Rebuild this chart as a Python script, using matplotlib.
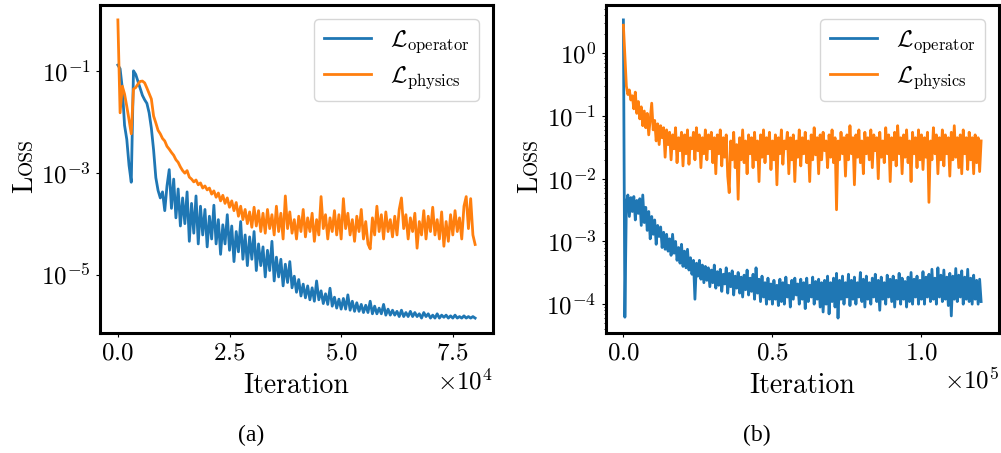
import numpy as np
import matplotlib
matplotlib.use("Agg")
import matplotlib.pyplot as plt
from matplotlib.ticker import LogLocator, NullLocator, NullFormatter, ScalarFormatter

plt.rcParams['font.family'] = ['cmr10']
plt.rcParams['mathtext.fontset'] = 'cm'
plt.rcParams['axes.unicode_minus'] = False
plt.rcParams['axes.formatter.use_mathtext'] = True

# ---------------- data ----------------
log_every = 500  # iterations between logged loss values

# panel (a): 0 .. 80000 iterations
op_loss_a = [
    0.13, 0.11, 0.045, 0.0085, 0.0045, 0.0014, 0.00065, 0.1, 0.085, 0.062,
    0.045, 0.033, 0.027, 0.023, 0.015, 0.0075, 0.0028, 0.0008, 0.00045, 0.00032,
    0.00042, 0.00018, 0.00055, 0.00115, 0.0002, 0.00075, 0.00013, 0.00048, 0.00009, 0.00032,
    0.0001, 0.00042, 4.5e-5, 0.00025, 6.5e-5, 0.00035, 4e-5, 0.00022, 6e-5, 0.00019,
    3.5e-5, 0.00014, 5e-5, 0.00023, 4e-5, 0.00012, 2.5e-5, 9.5e-5, 4e-5, 0.00015,
    3e-5, 9e-5, 1.8e-5, 7e-5, 2.8e-5, 0.00011, 2e-5, 6e-5, 1.5e-5, 5.5e-5,
    2e-5, 7e-5, 1.2e-5, 4e-5, 1.5e-5, 3.5e-5, 9e-6, 3e-5, 1.2e-5, 4.5e-5,
    7.5e-6, 2.2e-5, 9e-6, 2e-5, 6e-6, 1.6e-5, 7e-6, 1.8e-5, 5.5e-6, 9.3e-6,
    4.5e-6, 8e-6, 3.8e-6, 6.5e-6, 3.5e-6, 6e-6, 3.2e-6, 5.5e-6, 3e-6, 7.5e-6,
    3.2e-6, 4.8e-6, 2.7e-6, 4.2e-6, 2.6e-6, 5.4e-6, 2.4e-6, 3.6e-6, 2.2e-6, 3.3e-6,
    2.1e-6, 3.4e-6, 2.1e-6, 4e-6, 2e-6, 3e-6, 1.9e-6, 2.8e-6, 1.9e-6, 2.6e-6,
    1.8e-6, 2.5e-6, 1.8e-6, 3e-6, 1.7e-6, 2.4e-6, 1.7e-6, 2.2e-6, 1.7e-6, 2.6e-6,
    1.6e-6, 2.1e-6, 1.6e-6, 2e-6, 1.6e-6, 1.9e-6, 1.5e-6, 2e-6, 1.5e-6, 1.8e-6,
    1.5e-6, 1.9e-6, 1.5e-6, 1.8e-6, 1.5e-6, 1.7e-6, 1.4e-6, 1.8e-6, 1.5e-6, 1.7e-6,
    1.4e-6, 1.6e-6, 1.4e-6, 1.7e-6, 1.4e-6, 1.6e-6, 1.45e-6, 1.6e-6, 1.4e-6, 1.55e-6,
    1.4e-6, 1.6e-6, 1.4e-6, 1.5e-6, 1.4e-6, 1.55e-6, 1.4e-6, 1.5e-6, 1.4e-6, 1.5e-6,
    1.4e-6,
]
phys_loss_a = [
    1.0, 0.015, 0.05, 0.035, 0.02, 0.011, 0.0058, 0.044, 0.047, 0.055,
    0.062, 0.063, 0.058, 0.046, 0.036, 0.028, 0.013, 0.0095, 0.0068, 0.0058,
    0.0047, 0.0042, 0.0033, 0.0029, 0.0025, 0.0022, 0.0018, 0.0016, 0.0013, 0.0011,
    0.00098, 0.0011, 0.00082, 0.00075, 0.00066, 0.00072, 0.00058, 0.00063, 0.0005, 0.00055,
    0.00046, 0.0005, 0.00038, 0.00044, 0.00033, 0.0004, 0.00028, 0.00036, 0.00025, 0.00032,
    0.00021, 0.00028, 0.00018, 0.00026, 0.00014, 0.00022, 0.00012, 0.00019, 0.0001, 0.00017,
    8.5e-5, 0.00021, 9e-5, 0.00018, 7e-5, 0.00016, 6.5e-5, 0.00019, 8e-5, 0.00015,
    6e-5, 0.00022, 7e-5, 0.00016, 5e-5, 0.00035, 8e-5, 0.00017, 6.5e-5, 0.00012,
    5e-5, 0.00014, 7e-5, 0.00019, 5.5e-5, 0.00013, 7e-5, 0.00016, 4.5e-5, 0.00012,
    6e-5, 0.00034, 8e-5, 0.00015, 5e-5, 0.00013, 7e-5, 0.00018, 6e-5, 0.00015,
    5e-5, 0.00031, 8e-5, 0.00016, 6e-5, 0.00012, 4.5e-5, 0.00014, 7e-5, 0.00019,
    5e-5, 0.00011, 4e-5, 3.2e-5, 0.00013, 6e-5, 0.00022, 7e-5, 0.00015, 5e-5,
    0.00017, 7e-5, 0.00012, 5.5e-5, 0.00014, 6e-5, 0.00019, 0.00032, 8e-5, 0.00015,
    5e-5, 0.00013, 7e-5, 0.00016, 3.3e-5, 0.00011, 6e-5, 0.00018, 5e-5, 0.00014,
    7e-5, 0.00021, 6e-5, 0.00012, 5e-5, 0.00017, 3.6e-5, 0.00011, 4.5e-5, 0.00015,
    6e-5, 0.00018, 7e-5, 0.00013, 5e-5, 0.00022, 0.00034, 8e-5, 0.00031, 6e-5,
    3.9e-5,
]

# panel (b): 0 .. 120000 iterations
op_loss_b = [
    3.4, 6.2e-5, 0.004, 0.0055, 0.0025, 0.005, 0.003, 0.0052, 0.0022, 0.0045,
    0.0028, 0.0048, 0.0018, 0.0055, 0.002, 0.0035, 0.0015, 0.003, 0.0011, 0.0025,
    0.0013, 0.0022, 0.0009, 0.0018, 0.0012, 0.0017, 0.0008, 0.0014, 0.00075, 0.0013,
    0.0007, 0.0011, 0.0006, 0.0013, 0.00065, 0.001, 0.0005, 0.0008, 0.00045, 0.0009,
    0.0004, 0.0007, 0.00038, 0.00075, 0.00035, 0.00055, 0.0003, 0.0005, 0.00012, 0.00045,
    0.00028, 0.0005, 0.00025, 0.00042, 0.00022, 0.0004, 0.00024, 0.00038, 0.00019, 0.00035,
    0.00022, 0.00042, 0.00018, 0.00033, 0.0002, 0.00036, 0.00016, 0.0003, 0.00021, 0.00038,
    0.00015, 0.00031, 0.00019, 0.00034, 0.00014, 0.00028, 0.00018, 0.00032, 0.00015, 0.00027,
    0.00013, 0.00029, 0.00017, 0.00035, 0.00014, 0.00026, 0.00016, 0.0003, 0.00012, 0.00038,
    0.00015, 0.00025, 0.00011, 0.00028, 0.00013, 0.00022, 0.0001, 0.00026, 0.00012, 0.00021,
    0.0001, 0.00024, 0.00012, 0.0002, 9.5e-5, 0.00025, 0.00011, 0.00022, 0.0001, 0.00027,
    0.00013, 0.0002, 9e-5, 0.00024, 0.00012, 0.00026, 0.00014, 0.00021, 0.0001, 0.00025,
    0.00012, 0.00022, 8.5e-5, 0.00026, 0.00011, 0.0002, 0.00013, 0.00027, 0.0001, 0.00023,
    0.00012, 0.00025, 9e-5, 0.00022, 7.5e-5, 0.00024, 0.0001, 0.00028, 7e-5, 0.00022,
    0.00011, 0.00026, 9e-5, 0.00031, 6e-5, 0.00024, 0.00012, 0.00028, 0.0001, 0.00022,
    0.00013, 0.0003, 9.5e-5, 0.00024, 0.00012, 0.00027, 0.0001, 0.00022, 0.00013, 0.00032,
    0.00011, 0.00025, 9e-5, 0.00028, 0.00012, 0.00022, 0.0001, 0.00026, 0.00013, 0.0003,
    0.00011, 0.00024, 8e-5, 0.00027, 0.00012, 0.00022, 0.0001, 0.00029, 0.00013, 0.00025,
    0.00011, 0.00028, 9e-5, 0.00024, 0.00012, 0.00031, 0.0001, 0.00026, 0.00012, 0.00023,
    9e-5, 0.00027, 0.00011, 0.00032, 0.0001, 0.00025, 0.00013, 0.00028, 0.0001, 0.00024,
    0.00012, 0.00033, 0.0001, 0.00027, 0.00013, 0.0003, 0.00011, 0.00036, 0.00012, 0.00026,
    0.0001, 0.00038, 0.00013, 0.00029, 0.00011, 0.00035, 0.00012, 0.00027, 9.5e-5, 0.00031,
    6.5e-5, 0.00028, 0.00012, 0.00037, 0.00011, 0.00029, 0.00013, 0.00034, 0.0001, 0.00027,
    0.00012, 0.00036, 0.00011, 0.00026, 0.0001, 0.00029, 0.00012, 0.00024, 0.0001, 0.00025,
    0.00011,
]
phys_loss_b = [
    2.8, 0.9, 0.3, 0.22, 0.26, 0.18, 0.21, 0.13, 0.24, 0.11,
    0.17, 0.09, 0.14, 0.07, 0.12, 0.065, 0.11, 0.05, 0.09, 0.16,
    0.06, 0.085, 0.04, 0.075, 0.035, 0.07, 0.045, 0.065, 0.022, 0.06,
    0.035, 0.055, 0.02, 0.05, 0.03, 0.065, 0.018, 0.045, 0.028, 0.055,
    0.016, 0.05, 0.025, 0.06, 0.017, 0.045, 0.03, 0.055, 0.02, 0.065,
    0.028, 0.05, 0.015, 0.045, 0.025, 0.06, 0.02, 0.05, 0.03, 0.055,
    0.018, 0.045, 0.012, 0.05, 0.025, 0.06, 0.016, 0.045, 0.022, 0.05,
    0.011, 0.006, 0.04, 0.02, 0.055, 0.015, 0.035, 0.0047, 0.045, 0.02,
    0.06, 0.018, 0.04, 0.012, 0.05, 0.025, 0.045, 0.015, 0.055, 0.02,
    0.04, 0.009, 0.05, 0.022, 0.06, 0.018, 0.045, 0.025, 0.055, 0.014,
    0.04, 0.02, 0.05, 0.008, 0.045, 0.025, 0.06, 0.017, 0.04, 0.03,
    0.055, 0.012, 0.045, 0.02, 0.05, 0.009, 0.04, 0.022, 0.06, 0.016,
    0.045, 0.025, 0.055, 0.018, 0.04, 0.009, 0.05, 0.02, 0.065, 0.024,
    0.045, 0.012, 0.05, 0.02, 0.055, 0.028, 0.04, 0.015, 0.05, 0.022,
    0.06, 0.018, 0.045, 0.0032, 0.04, 0.02, 0.055, 0.025, 0.045, 0.011,
    0.05, 0.02, 0.07, 0.025, 0.045, 0.008, 0.05, 0.022, 0.06, 0.018,
    0.04, 0.012, 0.055, 0.025, 0.045, 0.02, 0.06, 0.015, 0.05, 0.028,
    0.045, 0.01, 0.055, 0.022, 0.04, 0.018, 0.065, 0.025, 0.05, 0.009,
    0.045, 0.02, 0.055, 0.016, 0.07, 0.025, 0.045, 0.012, 0.05, 0.022,
    0.06, 0.018, 0.04, 0.009, 0.055, 0.025, 0.045, 0.015, 0.06, 0.02,
    0.05, 0.014, 0.045, 0.022, 0.055, 0.0042, 0.04, 0.02, 0.065, 0.025,
    0.05, 0.012, 0.045, 0.02, 0.06, 0.016, 0.05, 0.025, 0.045, 0.011,
    0.055, 0.02, 0.07, 0.022, 0.045, 0.015, 0.05, 0.012, 0.06, 0.025,
    0.045, 0.014, 0.055, 0.02, 0.045, 0.012, 0.05, 0.018, 0.045, 0.013,
    0.04,
]

legend_labels = [r'$\mathcal{L}_{\mathrm{operator}}$', r'$\mathcal{L}_{\mathrm{physics}}$']
captions = ['(a)', '(b)']
blue = '#1f77b4'
orange = '#ff7f0e'

# ---------------- figure ----------------
W, H = 1001, 453
fig = plt.figure(figsize=(W / 100, H / 100), dpi=100)

def px_axes(x0, y0, x1, y1):
    return fig.add_axes([x0 / W, 1 - y1 / H, (x1 - x0) / W, (y1 - y0) / H])

axA = px_axes(100, 5, 493, 333)
axB = px_axes(605.5, 5, 999, 333)

panels = [
    (axA, op_loss_a, phys_loss_a),
    (axB, op_loss_b, phys_loss_b),
]

for ax, op, ph in panels:
    it_op = np.arange(len(op)) * log_every
    it_ph = np.arange(len(ph)) * log_every
    ax.plot(it_op, op, color=blue, lw=2.0, label=legend_labels[0])
    ax.plot(it_ph, ph, color=orange, lw=2.0, label=legend_labels[1])
    ax.set_yscale('log')
    for s in ax.spines.values():
        s.set_linewidth(2.2)
        s.set_color('black')
    ax.tick_params(axis='both', which='major', labelsize=18, length=3, width=0.8)
    ax.tick_params(axis='both', which='minor', length=1.8, width=0.6)
    fmt = ScalarFormatter(useMathText=True)
    fmt.set_powerlimits((0, 0))
    ax.xaxis.set_major_formatter(fmt)
    ax.xaxis.get_offset_text().set_fontsize(18)
    ax.set_xlabel(r'Iteration', fontsize=20, labelpad=6)
    leg = ax.legend(loc='upper right', fontsize=17, handlelength=2.0,
                    borderaxespad=0.6, labelspacing=0.4, framealpha=0.8)

# panel (a) ticks
axA.set_xticks([0, 25000, 50000, 75000])
axA.set_yticks([1e-1, 1e-3, 1e-5])
axA.yaxis.set_minor_locator(NullLocator())

# panel (b) ticks
axB.set_xticks([0, 50000, 100000])
axB.yaxis.set_major_locator(LogLocator(base=10.0, numticks=15))
axB.yaxis.set_minor_locator(LogLocator(base=10.0, subs=np.arange(2, 10), numticks=15))
axB.yaxis.set_minor_formatter(NullFormatter())

# "Loss" y-labels in small caps style (large L + smaller OSS)
fig.canvas.draw()
renderer = fig.canvas.get_renderer()
for xb in [32, 537]:
    yb = 193
    t1 = fig.text(xb / W, 1 - yb / H, 'L', rotation=90, rotation_mode='anchor',
                  ha='left', va='baseline', fontsize=20)
    ext = t1.get_window_extent(renderer)
    t2 = fig.text(xb / W, 1 - yb / H + (ext.height + 1) / H, 'OSS', rotation=90,
                  rotation_mode='anchor', ha='left', va='baseline', fontsize=14)

# captions
for cx, cap in zip([251, 757], captions):
    fig.text(cx / W, 1 - 435.5 / H, cap, ha='center', va='center', fontsize=17,
             family='Liberation Serif')

fig.savefig('out.png', dpi=100)
